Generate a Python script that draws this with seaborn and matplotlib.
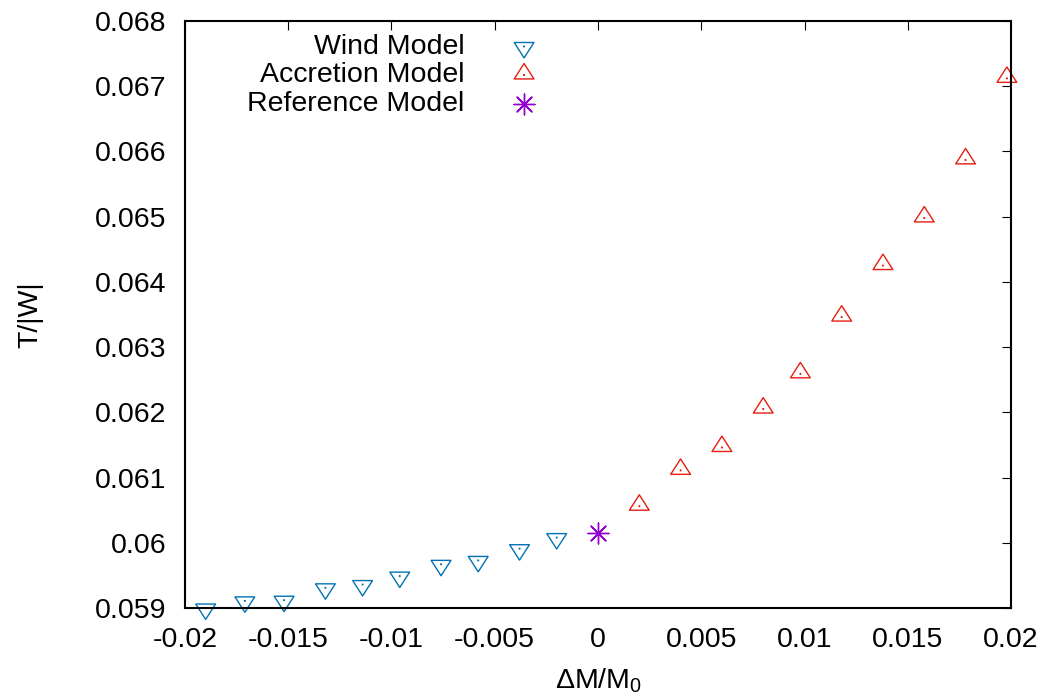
import numpy as np
import matplotlib
matplotlib.use("Agg")
import matplotlib.pyplot as plt
from matplotlib.path import Path
from matplotlib.ticker import MultipleLocator, FuncFormatter
import seaborn as sns

# ---- data ----
wind_dm = [-0.0190, -0.0171, -0.0152, -0.0132, -0.0114, -0.0096, -0.0076, -0.0058, -0.0038, -0.0020]
wind_tw = [0.05900, 0.05911, 0.05912, 0.05931, 0.05936, 0.05949, 0.05967, 0.05973, 0.05991, 0.06008]
accr_dm = [0.0020, 0.0040, 0.0060, 0.0080, 0.0098, 0.0118, 0.0138, 0.0158, 0.0178, 0.0198]
accr_tw = [0.06056, 0.06111, 0.06146, 0.06205, 0.06259, 0.06346, 0.06425, 0.06498, 0.06587, 0.06712]
ref_dm = [0.0]
ref_tw = [0.06015]

series_labels = ["Wind Model", "Accretion Model", "Reference Model"]
series_colors = ["#0072b2", "#e51e10", "#9400d3"]
x_label = r"$\mathregular{\Delta M/M_0}$"
y_label = "T/|W|"

sns.set_style("white")
plt.rcParams["font.family"] = ["Liberation Sans", "DejaVu Sans"]
plt.rcParams["mathtext.fontset"] = "custom"
plt.rcParams["mathtext.rm"] = "Liberation Sans"
plt.rcParams["mathtext.it"] = "Liberation Sans:italic"
plt.rcParams["axes.unicode_minus"] = False
for k in ["text.color", "axes.labelcolor", "xtick.color", "ytick.color",
          "xtick.labelcolor", "ytick.labelcolor", "axes.edgecolor"]:
    plt.rcParams[k] = "black"

FS = 20.5


def tri_marker(up=True):
    # triangle with the data point at its centroid, plus a tiny dot at the point
    s = 1.0 if up else -1.0
    verts = [(0, 1.16 * s), (-1, -0.40 * s), (1, -0.40 * s), (0, 1.16 * s),
             (-0.03, -0.03), (0.03, -0.03), (0.03, 0.03), (-0.03, 0.03), (-0.03, -0.03)]
    codes = [Path.MOVETO, Path.LINETO, Path.LINETO, Path.CLOSEPOLY,
             Path.MOVETO, Path.LINETO, Path.LINETO, Path.LINETO, Path.CLOSEPOLY]
    return Path(verts, codes)


fig = plt.figure(figsize=(10.6, 7), dpi=100)
ax = fig.add_axes([185 / 1060, 92 / 700, 826 / 1060, 587 / 700])

tri_size = 16.5 ** 2
sns.scatterplot(x=wind_dm, y=wind_tw, marker=tri_marker(False), s=tri_size,
                color=series_colors[0], linewidth=1.0, label=series_labels[0],
                ax=ax, clip_on=False, legend=False)
sns.scatterplot(x=accr_dm, y=accr_tw, marker=tri_marker(True), s=tri_size,
                color=series_colors[1], linewidth=1.0, label=series_labels[1],
                ax=ax, clip_on=False, legend=False)
sns.scatterplot(x=ref_dm, y=ref_tw, marker=(8, 2, 0), s=15 ** 2,
                color=series_colors[2], linewidth=1.0, label=series_labels[2],
                ax=ax, clip_on=False, legend=False)

for coll, col in zip(ax.collections[:2], series_colors[:2]):
    coll.set_facecolor("none")
    coll.set_edgecolor(col)
ax.collections[2].set_edgecolor(series_colors[2])

ax.set_xlim(-0.02, 0.02)
ax.set_ylim(0.059, 0.068)
ax.xaxis.set_major_locator(MultipleLocator(0.005))
ax.yaxis.set_major_locator(MultipleLocator(0.001))
fmt = FuncFormatter(lambda v, p: "%g" % round(v, 6))
ax.xaxis.set_major_formatter(fmt)
ax.yaxis.set_major_formatter(fmt)

ax.tick_params(axis="both", which="major", direction="in", top=True, right=True,
               length=6.5, width=0.8, color="black", labelcolor="black", labelsize=FS)
ax.tick_params(axis="x", pad=13.5)
ax.tick_params(axis="y", pad=13.5)
for sp in ax.spines.values():
    sp.set_visible(True)
    sp.set_linewidth(1.5)
    sp.set_color("black")

ax.set_xlabel(x_label, fontsize=FS, labelpad=10, color="black")
ax.set_ylabel(y_label, fontsize=FS, labelpad=37, color="black")

leg = ax.legend(loc="upper right", bbox_to_anchor=(0.445, 0.978), frameon=False,
                markerfirst=False, fontsize=FS, borderpad=0, handlelength=2.0,
                handletextpad=1.1, labelspacing=0.09, borderaxespad=0)
for t in leg.get_texts():
    t.set_color("black")

fig.savefig("out.png", dpi=100)
